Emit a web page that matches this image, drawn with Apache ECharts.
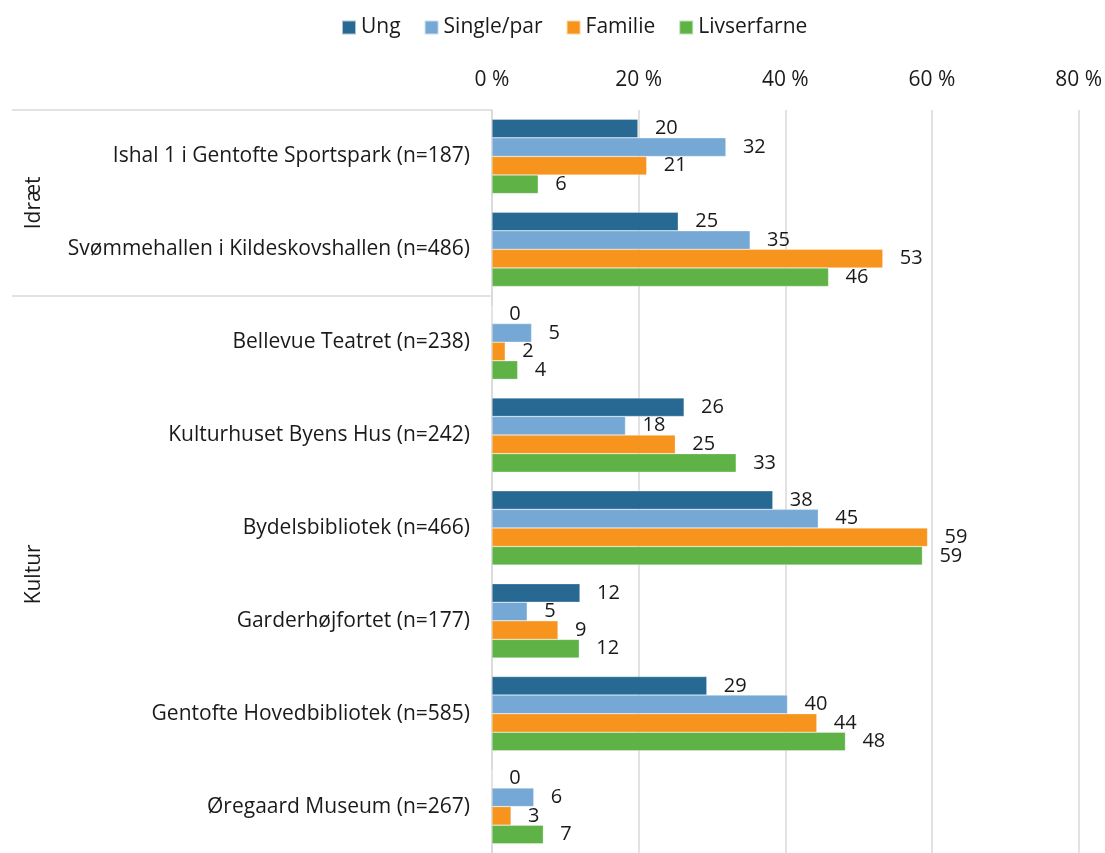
<!DOCTYPE html>
<html>
<head>
<meta charset="utf-8">
<script src="https://cdn.jsdelivr.net/npm/echarts@6/dist/echarts.min.js"></script>
<style>
  html, body { margin: 0; padding: 0; background: #fff; }
  #chart { width: 1105px; height: 853px; }
</style>
</head>
<body>
<div id="chart"></div>
<script>
// data
var categories = [
  'Ishal 1 i Gentofte Sportspark (n=187)',
  'Svømmehallen i Kildeskovshallen (n=486)',
  'Bellevue Teatret (n=238)',
  'Kulturhuset Byens Hus (n=242)',
  'Bydelsbibliotek (n=466)',
  'Garderhøjfortet (n=177)',
  'Gentofte Hovedbibliotek (n=585)',
  'Øregaard Museum (n=267)'
];
var groups = ['Idræt', 'Kultur'];
var groupSizes = [2, 6];
var seriesNames = ['Ung', 'Single/par', 'Familie', 'Livserfarne'];
var ung = [19.9, 25.4, 0, 26.2, 38.3, 12.0, 29.3, 0];
var singlePar = [31.9, 35.2, 5.4, 18.2, 44.5, 4.8, 40.3, 5.7];
var familie = [21.1, 53.3, 1.8, 25.0, 59.4, 9.0, 44.3, 2.6];
var livserfarne = [6.3, 45.9, 3.5, 33.3, 58.7, 11.9, 48.2, 7.0];
var xTicks = [0, 20, 40, 60, 80];

var colors = ['#286994', '#76a8d6', '#f7941d', '#5fb246'];
var font = 'Open Sans';
var textColor = '#1a1a1a';

// group boundaries and centres in category units
var bounds = [0], centres = [];
groupSizes.forEach(function (n, i) {
  centres.push(bounds[i] + n / 2);
  bounds.push(bounds[i] + n);
});

var chart = echarts.init(document.getElementById('chart'));

function barSeries(name, data) {
  return {
    name: name,
    type: 'bar',
    data: data,
    barGap: '0%',
    barCategoryGap: '20%',
    itemStyle: { borderColor: 'rgba(255,255,255,0.6)', borderWidth: 0.5 },
    label: {
      show: true,
      position: 'right',
      distance: 17,
      fontFamily: font,
      fontSize: 20,
      color: textColor,
      formatter: function (p) { return Math.round(p.value); }
    }
  };
}

var option = {
  backgroundColor: '#fff',
  color: colors,
  textStyle: { fontFamily: font },
  legend: {
    data: seriesNames,
    top: 12,
    left: 336,
    itemWidth: 14,
    itemHeight: 14,
    itemGap: 23,
    icon: 'rect',
    textStyle: { fontFamily: font, fontSize: 21, color: textColor }
  },
  grid: {
    left: 492,
    right: 26,
    top: 110,
    bottom: -7
  },
  xAxis: {
    type: 'value',
    position: 'top',
    min: xTicks[0],
    max: xTicks[xTicks.length - 1],
    interval: 20,
    axisLine: { show: false },
    axisTick: { show: false },
    splitLine: { lineStyle: { color: '#d9d9d9', width: 1.5 } },
    axisLabel: {
      margin: 19,
      fontFamily: font,
      fontSize: 21,
      color: textColor,
      formatter: '{value} %'
    }
  },
  yAxis: [{
    type: 'category',
    inverse: true,
    data: categories,
    axisLine: { show: true, lineStyle: { color: '#d9d9d9', width: 1.5 } },
    axisTick: { show: false },
    axisLabel: {
      margin: 22,
      fontFamily: font,
      fontSize: 21,
      color: textColor
    }
  }, {
    type: 'value',
    position: 'left',
    inverse: true,
    min: 0,
    max: categories.length,
    axisLine: { show: false },
    splitLine: { show: false },
    axisTick: {
      show: true,
      customValues: bounds.slice(0, -1),
      length: 480,
      lineStyle: { color: '#d9d9d9', width: 1.5 }
    },
    axisLabel: {
      show: true,
      customValues: centres,
      rotate: 90,
      margin: 447,
      fontFamily: font,
      fontSize: 21,
      color: textColor,
      formatter: function (v) {
        var i = centres.indexOf(v);
        return i >= 0 ? groups[i] : '';
      }
    }
  }],
  series: [
    barSeries(seriesNames[0], ung),
    barSeries(seriesNames[1], singlePar),
    barSeries(seriesNames[2], familie),
    barSeries(seriesNames[3], livserfarne)
  ]
};

chart.setOption(option);
</script>
</body>
</html>
